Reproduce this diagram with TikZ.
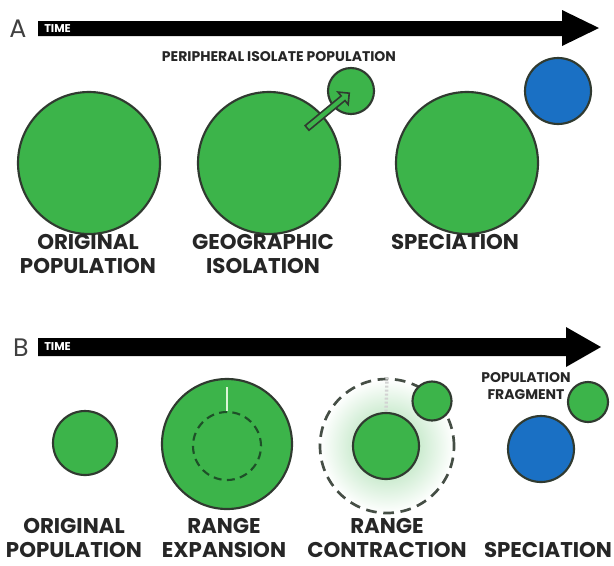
\documentclass[tikz,border=0pt]{standalone}
\usepackage{fontspec}
\setmainfont{Poppins}
\usetikzlibrary{shapes.arrows}
\definecolor{grn}{RGB}{60,180,74}
\definecolor{dk}{RGB}{48,58,48}
\definecolor{blu}{RGB}{26,112,196}
\definecolor{dgrn}{RGB}{30,80,40}
\begin{document}
\begin{tikzpicture}[x=0.75pt,y=-0.75pt,
  pop/.style={circle, draw=dk, fill=grn, line width=1.6pt, inner sep=0pt, minimum size=#1*1.5pt},
  bpop/.style={pop=#1, fill=blu},
  lbl/.style={font=\fontsize{16}{17.5}\selectfont\bfseries, align=center, text=black!85, inner sep=0pt},
  slbl/.style={font=\fontsize{10.5}{12.5}\selectfont\bfseries, align=center, text=black!85, inner sep=0pt},
  tlbl/.style={font=\fontsize{8.5}{9}\selectfont\bfseries, text=white, inner sep=0pt, anchor=west},
  panel/.style={font=\fontsize{19}{19}\selectfont, text=black!75, inner sep=0pt},
  timebar/.style={fill=black}]
\useasboundingbox (0,0) rectangle (614,565);

% ---------- Panel A ----------
\node[panel] (lA) at (18,29) {A};
\fill[timebar] (38,21) -- (562,21) -- (562,10) -- (599,28) -- (562,46) -- (562,36) -- (38,36) -- cycle;
\node[tlbl] (tA) at (44,28.5) {TIME};

\node[pop=71] (a1) at (89,163) {};
\node[pop=71] (a2) at (269,163) {};
\node[pop=23] (a2s) at (351,91) {};
\node[pop=71] (a3) at (467,163) {};
\node[bpop=33] (a3b) at (558,91) {};

\node[single arrow, draw=dk, fill=grn, line width=1.2pt, minimum height=41pt,
      minimum width=12pt, single arrow head extend=3pt, inner sep=1.2pt,
      rotate=39.5] (iso) at (327,111.5) {};

\node[slbl] (pil) at (279,57) {PERIPHERAL ISOLATE POPULATION};
\node[lbl] (l1) at (88,254) {ORIGINAL\\POPULATION};
\node[lbl] (l2) at (263,254) {GEOGRAPHIC\\ISOLATION};
\node[lbl] (l3) at (455,242) {SPECIATION};

% ---------- Panel B ----------
\node[panel] (lB) at (21,348) {B};
\fill[timebar] (38,338) -- (566,338) -- (566,327) -- (601,347) -- (566,367) -- (566,356) -- (38,356) -- cycle;
\node[tlbl] (tB) at (44,347) {TIME};

\node[pop=32] (b1) at (85,443) {};

\node[pop=65] (b2) at (227,444) {};
\node[circle, draw=dgrn, line width=1.6pt, dash pattern=on 6pt off 4pt, minimum size=34*1.5pt, inner sep=0pt] (b2i) at (227,446) {};
\coordinate (b2t) at (227,387);
\draw[line width=1.8pt, color={rgb,255:red,220;green,245;blue,215}] (b2t) -- (b2i.north);

\shade[inner color=grn!50, outer color=white] (387,446) circle[radius=67];
\node[circle, draw=dk!90, line width=2pt, dash pattern=on 8pt off 5pt, minimum size=67*1.5pt, inner sep=0pt] (b3o) at (387,446) {};
\node[pop=33] (b3) at (386,446) {};
\node[pop=19.5] (b3s) at (432,401) {};
\draw[line width=2.5pt, gray!35, dash pattern=on 1.5pt off 1.5pt] (b3o.north) -- (b3.north);

\node[pop=20] (b4s) at (588,402) {};
\node[bpop=33] (b4) at (541,449) {};
\node[slbl] (frag) at (526,386) {POPULATION\\FRAGMENT};

\node[lbl] (m1) at (74,538) {ORIGINAL\\POPULATION};
\node[lbl] (m2) at (224,538) {RANGE\\EXPANSION};
\node[lbl] (m3) at (387,538) {RANGE\\CONTRACTION};
\node[lbl] (m4) at (548,550) {SPECIATION};
\end{tikzpicture}
\end{document}
